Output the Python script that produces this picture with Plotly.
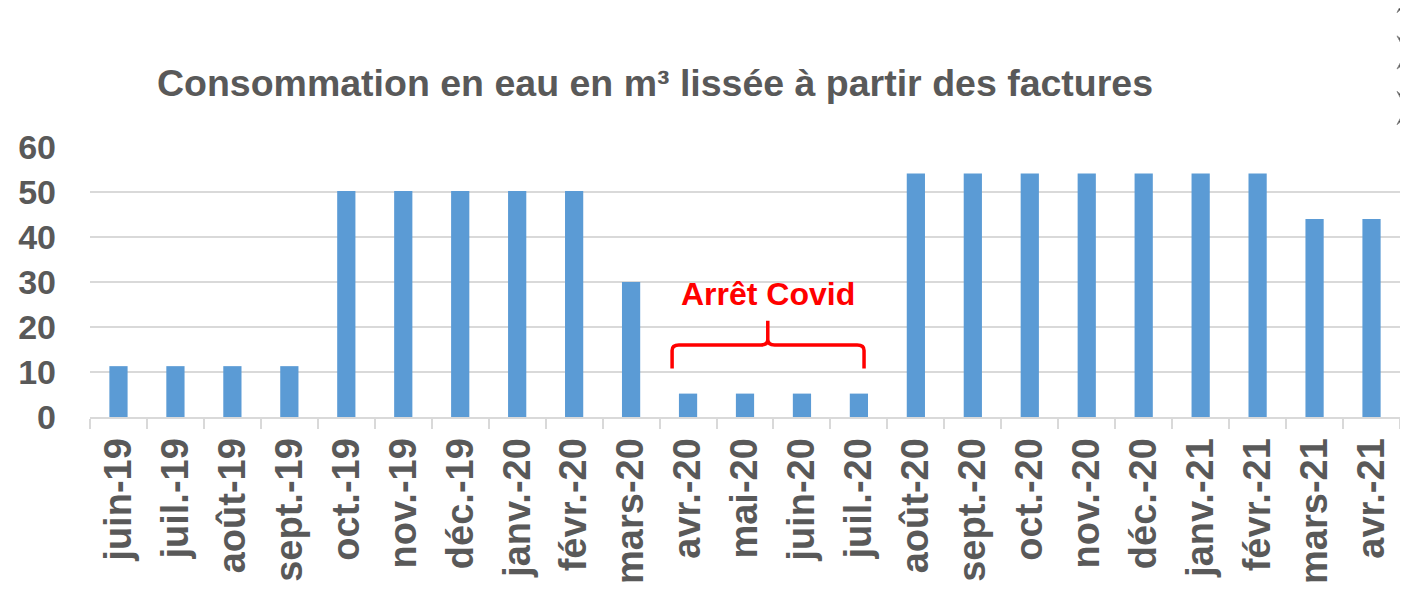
import plotly.graph_objects as go

months = ["juin-19", "juil.-19", "août-19", "sept.-19", "oct.-19", "nov.-19", "déc.-19",
          "janv.-20", "févr.-20", "mars-20", "avr.-20", "mai-20", "juin-20", "juil.-20",
          "août-20", "sept.-20", "oct.-20", "nov.-20", "déc.-20", "janv.-21", "févr.-21",
          "mars-21", "avr.-21"]
consumption = [11.3, 11.3, 11.3, 11.3, 50.2, 50.2, 50.2, 50.2, 50.2, 30.0,
               5.2, 5.2, 5.2, 5.2, 54.1, 54.1, 54.1, 54.1, 54.1, 54.1, 54.1, 44.0, 44.0]
y_ticks = [0, 10, 20, 30, 40, 50, 60]
title_text = "Consommation en eau en m³ lissée à partir des factures"
covid_label = "Arrêt Covid"

FONT = "Liberation Sans, Arial, sans-serif"
GRAY = "#595959"
GRID = "#D9D9D9"

# page body has an 8px margin: figure spans page pixels 8..1408 x 8..592
OFF = 8
W, H = 1408 - OFF, 592 - OFF
PL, PR, PT, PB = 90, 1400, 147, 424  # plot area in page pixels


def px_x(p):
    return (p - PL) / (PR - PL)


def px_y(p):
    return (PB - p) / (PB - PT)


fig = go.Figure()
fig.add_trace(go.Bar(x=months, y=consumption, marker=dict(color="#5B9BD5", line=dict(width=0))))

# Curly brace over the Covid stop (x in category index units, y in data units)
bl, br, bm = 9.72, 13.09, 11.4
yb, yh, yt = 10.8, 16.0, 21.4
r = 0.12
path = (f"M {bl},{yb} L {bl},{yh-1.2} Q {bl},{yh} {bl+r},{yh} "
        f"L {bm-r},{yh} Q {bm},{yh} {bm},{yh+1.2} L {bm},{yt} "
        f"M {bm},{yh+1.2} Q {bm},{yh} {bm+r},{yh} "
        f"L {br-r},{yh} Q {br},{yh} {br},{yh-1.2} L {br},{yb}")
fig.add_shape(type="path", path=path, xref="x", yref="y",
              line=dict(color="#FF0000", width=3.5))

fig.add_annotation(x=bm, y=27.3, xref="x", yref="y", text=f"<b>{covid_label}</b>",
                   showarrow=False, font=dict(family=FONT, size=32, color="#FF0000"),
                   xanchor="center", yanchor="middle")

# partial slide bullet arrowheads at the top right edge (decoration from the source slide)
for cy in [-8, 50, 107]:
    pts = [(1397, cy - 17), (1412, cy - 5), (1412, cy + 5), (1397, cy + 17), (1406, cy)]
    d = "M " + " L ".join(f"{px_x(a):.5f},{px_y(b):.5f}" for a, b in pts) + " Z"
    fig.add_shape(type="path", path=d, xref="paper", yref="paper",
                  fillcolor="#404040", line=dict(color="#8a8a8a", width=1))

fig.update_layout(
    width=W, height=H,
    margin=dict(l=PL - OFF, r=1408 - PR, t=PT - OFF, b=592 - PB),
    paper_bgcolor="white", plot_bgcolor="white",
    bargap=0.68,
    showlegend=False,
    title=dict(text=f"<b>{title_text}</b>", x=(655 - OFF) / W, xanchor="center",
               y=1 - (83 - OFF) / H, yanchor="middle",
               font=dict(family=FONT, size=37.5, color=GRAY)),
)
fig.update_xaxes(
    type="category", tickson="boundaries", ticks="outside", ticklen=10, tickwidth=2,
    tickcolor=GRID, showline=True, linecolor=GRID, linewidth=2, showgrid=False,
    tickangle=-90, tickfont=dict(family=FONT, size=38, color=GRAY),
    ticktext=[f"<b>{m}</b>" for m in months], tickvals=months,
    ticklabelstandoff=4, range=[-0.5, 22.5],
)
fig.update_yaxes(
    range=[0, 60], tickvals=y_ticks, ticktext=[f"<b>{v}</b>" for v in y_ticks],
    showgrid=True, gridcolor=GRID, gridwidth=2, zeroline=False, showline=False,
    ticks="", tickfont=dict(family=FONT, size=34, color=GRAY), ticklabelstandoff=33,
)

fig.write_html("out.html")
